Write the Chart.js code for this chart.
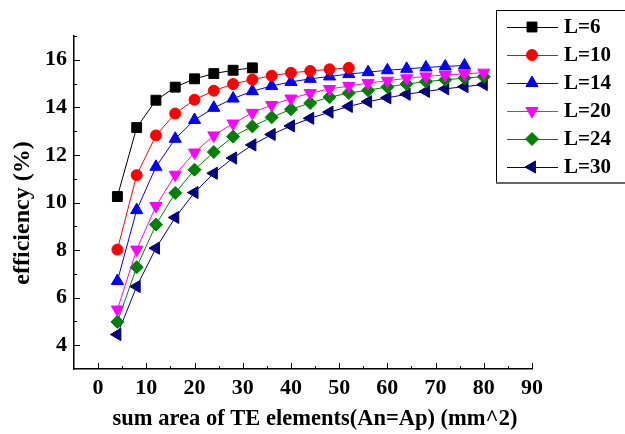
<!DOCTYPE html>
<html>
<head>
<meta charset="utf-8">
<script src="https://cdn.jsdelivr.net/npm/chart.js@4"></script>
<style>
  body { margin: 0; background: #fff; }
  canvas { display: block; }
</style>
</head>
<body>
<canvas id="chart" width="625" height="434"></canvas>
<script>
// x positions (mm^2) and efficiency (%)
var xs = [4, 8, 12, 16, 20, 24, 28, 32, 36, 40, 44, 48, 52, 56, 60, 64, 68, 72, 76, 80];
var l6  = [10.25, 13.15, 14.3, 14.85, 15.2, 15.42, 15.56, 15.66];
var l10 = [8.02, 11.15, 12.82, 13.74, 14.32, 14.7, 14.98, 15.17, 15.33, 15.45, 15.53, 15.6, 15.66];
var l14 = [6.7, 9.68, 11.5, 12.68, 13.47, 13.98, 14.37, 14.68, 14.9, 15.07, 15.2, 15.3, 15.4, 15.48, 15.56, 15.62, 15.68, 15.72, 15.76];
var l20 = [5.5, 8.02, 9.85, 11.17, 12.1, 12.82, 13.32, 13.77, 14.1, 14.37, 14.6, 14.77, 14.9, 15.02, 15.12, 15.22, 15.3, 15.36, 15.41, 15.46];
var l24 = [4.98, 7.28, 9.07, 10.4, 11.38, 12.12, 12.77, 13.2, 13.58, 13.92, 14.18, 14.43, 14.6, 14.72, 14.86, 14.98, 15.08, 15.16, 15.23, 15.29];
var l30 = [4.45, 6.47, 8.08, 9.37, 10.42, 11.23, 11.87, 12.42, 12.86, 13.22, 13.54, 13.8, 14.04, 14.24, 14.4, 14.55, 14.67, 14.78, 14.87, 14.96];

var labels = ['L=6', 'L=10', 'L=14', 'L=20', 'L=24', 'L=30'];
var xTicks = [0, 10, 20, 30, 40, 50, 60, 70, 80, 90];
var yTicks = [4, 6, 8, 10, 12, 14, 16];
var xTitle = 'sum area of TE elements(An=Ap) (mm^2)';
var yTitle = 'efficiency (%)';

function pts(ys) {
  return ys.map(function (y, i) { return { x: xs[i], y: y }; });
}

function series(i, ys, color, style, rot, r) {
  return {
    label: labels[i],
    data: pts(ys),
    borderColor: color,
    backgroundColor: color,
    borderWidth: 1,
    pointStyle: style,
    pointRotation: rot,
    pointRadius: r,
    pointBorderWidth: 1,
    tension: 0
  };
}

var datasets = [
  series(0, l6,  '#000000', 'rect', 0, 7),
  series(1, l10, '#ff0000', 'circle', 0, 5.5),
  series(2, l14, '#0000ff', 'triangle', 0, 7),
  series(3, l20, '#ff00ff', 'triangle', 180, 7),
  series(4, l24, '#008000', 'rectRot', 0, 6.5),
  series(5, l30, '#000080', 'triangle', -90, 7)
];

var tickFont = { family: 'Liberation Serif', weight: 'bold', size: 22 };

// inward major/minor ticks, Origin style
var innerTicks = {
  id: 'innerTicks',
  afterDatasetsDraw: function (chart) {
    var ctx = chart.ctx, a = chart.chartArea;
    var sx = chart.scales.x, sy = chart.scales.y;
    ctx.save();
    ctx.strokeStyle = '#000';
    ctx.lineWidth = 1;
    ctx.beginPath();
    for (var v = 0; v <= 90; v += 5) {
      var px = Math.round(sx.getPixelForValue(v)) + 0.5;
      ctx.moveTo(px, a.bottom);
      ctx.lineTo(px, a.bottom - (v % 10 === 0 ? 6 : 3));
    }
    for (var w = 4; w <= 17; w += 1) {
      var py = Math.round(sy.getPixelForValue(w)) + 0.5;
      ctx.moveTo(a.left, py);
      ctx.lineTo(a.left + (w % 2 === 0 ? 6 : 3), py);
    }
    ctx.stroke();

    // axis titles, placed as in the figure (slightly off-centre)
    ctx.fillStyle = '#000';
    ctx.textAlign = 'center';
    ctx.textBaseline = 'middle';
    ctx.font = 'bold 22.5px "Liberation Serif"';
    ctx.fillText(xTitle, 315, 419);
    ctx.translate(23, 213);
    ctx.rotate(-Math.PI / 2);
    ctx.font = 'bold 24px "Liberation Serif"';
    ctx.fillText(yTitle, 0, 0);
    ctx.restore();
  }
};

// boxed legend with line + marker, like the original figure
var boxLegend = {
  id: 'boxLegend',
  afterDraw: function (chart) {
    var ctx = chart.ctx;
    var left = 496, top = 10, bottom = 183;
    ctx.save();
    ctx.fillStyle = '#fff';
    ctx.fillRect(left, top, 140, bottom - top);
    ctx.strokeStyle = '#000';
    ctx.lineWidth = 1;
    ctx.strokeRect(left + 0.5, top + 0.5, 140, bottom - top - 1);
    ctx.strokeStyle = '#666';
    ctx.lineWidth = 2;
    ctx.beginPath();
    ctx.moveTo(left, bottom);
    ctx.lineTo(625, bottom);
    ctx.stroke();
    chart.data.datasets.forEach(function (ds, i) {
      var y = 27 + i * 28;
      ctx.strokeStyle = ds.borderColor;
      ctx.lineWidth = 1;
      ctx.beginPath();
      ctx.moveTo(507, y + 0.5);
      ctx.lineTo(558, y + 0.5);
      ctx.stroke();
      ctx.fillStyle = ds.backgroundColor;
      Chart.helpers.drawPoint(ctx, {
        pointStyle: ds.pointStyle,
        rotation: ds.pointRotation,
        radius: ds.pointRadius,
        borderWidth: 1
      }, 532, y);
      ctx.fillStyle = '#000';
      ctx.font = 'bold 21px "Liberation Serif"';
      ctx.textBaseline = 'middle';
      ctx.fillText(ds.label, 564, y + 1);
    });
    ctx.restore();
  }
};

new Chart(document.getElementById('chart'), {
  type: 'line',
  data: { datasets: datasets },
  options: {
    responsive: false,
    animation: false,
    layout: { padding: { top: 36, right: 93, left: 0, bottom: 0 } },
    plugins: {
      legend: { display: false },
      tooltip: { enabled: false }
    },
    scales: {
      x: {
        type: 'linear',
        min: -5,
        max: 90,
        afterBuildTicks: function (scale) {
          scale.ticks = xTicks.map(function (v) { return { value: v }; });
        },
        afterFit: function (scale) { scale.height = 65; },
        grid: { display: false, drawTicks: false },
        border: { display: true, color: '#000', width: 1.5 },
        ticks: { color: '#000', font: tickFont, padding: 6, maxRotation: 0, autoSkip: false }
      },
      y: {
        type: 'linear',
        min: 3,
        max: 17,
        afterBuildTicks: function (scale) {
          scale.ticks = yTicks.map(function (v) { return { value: v }; });
        },
        afterFit: function (scale) { scale.width = 74; },
        grid: { display: false, drawTicks: false },
        border: { display: true, color: '#000', width: 1.5 },
        ticks: { color: '#000', font: tickFont, padding: 7, autoSkip: false }
      }
    }
  },
  plugins: [innerTicks, boxLegend]
});
</script>
</body>
</html>
